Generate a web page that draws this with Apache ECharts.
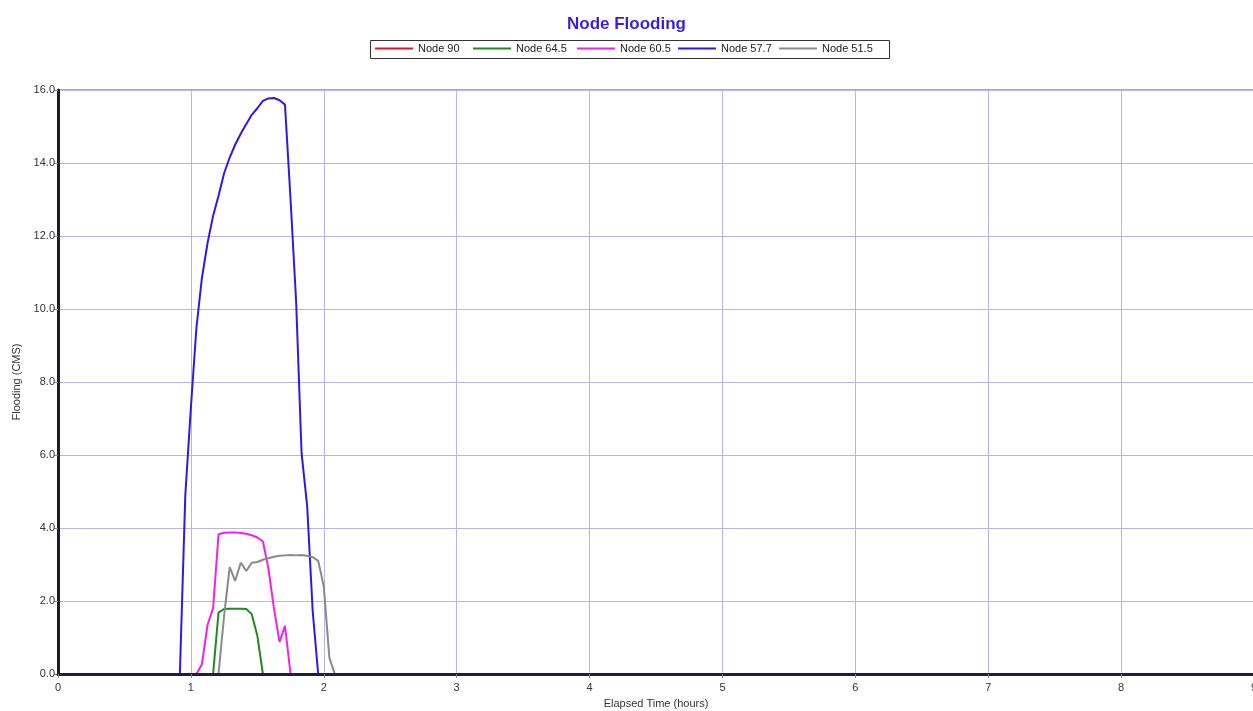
<!DOCTYPE html>
<html>
<head>
<meta charset="utf-8">
<title>Node Flooding</title>
<script src="https://cdn.jsdelivr.net/npm/echarts@6/dist/echarts.min.js"></script>
<style>
  html, body { margin: 0; padding: 0; background: #ffffff; }
  #chart { width: 1253px; height: 711px; }
</style>
</head>
<body>
<div id="chart"></div>
<script>
// Reporting times (hours), 2.5-minute steps around the flooding event
const hours = [0.875, 0.917, 0.958, 1.000, 1.042, 1.083, 1.125, 1.167, 1.208, 1.250,
               1.292, 1.333, 1.375, 1.417, 1.458, 1.500, 1.542, 1.583, 1.625, 1.667,
               1.708, 1.750, 1.792, 1.833, 1.875, 1.917, 1.958, 2.000, 2.042, 2.083, 2.125];

// Flooding rates (CMS) per node at each reporting time
const node90   = [0, 0, 0, 0, 0, 0, 0, 0, 0, 0, 0, 0, 0, 0, 0, 0, 0, 0, 0, 0,
                  0, 0, 0, 0, 0, 0, 0, 0, 0, 0, 0];
const node645  = [0, 0, 0, 0, 0, 0, 0, 0, 1.68, 1.78, 1.79, 1.79, 1.79, 1.78, 1.64, 1.05, 0, 0, 0, 0,
                  0, 0, 0, 0, 0, 0, 0, 0, 0, 0, 0];
const node605  = [0, 0, 0, 0, 0, 0.27, 1.34, 1.8, 3.83, 3.87, 3.88, 3.88, 3.86, 3.84, 3.8, 3.74, 3.63, 2.9, 1.8, 0.88,
                  1.32, 0, 0, 0, 0, 0, 0, 0, 0, 0, 0];
const node577  = [0, 0, 4.9, 7.3, 9.5, 10.85, 11.8, 12.55, 13.1, 13.72, 14.15, 14.5, 14.8, 15.07, 15.32, 15.5, 15.7, 15.77, 15.78, 15.72,
                  15.6, 13.0, 10.2, 6.05, 4.6, 1.7, 0, 0, 0, 0, 0];
const node515  = [0, 0, 0, 0, 0, 0, 0, 0, 0, 1.6, 2.93, 2.55, 3.05, 2.82, 3.05, 3.07, 3.13, 3.17, 3.21, 3.24,
                  3.25, 3.26, 3.25, 3.26, 3.24, 3.2, 3.1, 2.4, 0.45, 0, 0];

const seriesNames  = ['Node 90', 'Node 64.5', 'Node 60.5', 'Node 57.7', 'Node 51.5'];
const seriesValues = [node90, node645, node605, node577, node515];
const seriesColors = ['#e8102c', '#1f8a1f', '#f020f0', '#3a14e6', '#8a8a8a'];

const FONT = 'Arial, "Liberation Sans", sans-serif';
const legendLefts = [375, 473, 577, 678, 779];

const chart = echarts.init(document.getElementById('chart'), null, { renderer: 'canvas' });

const option = {
  backgroundColor: '#ffffff',
  animation: false,
  title: {
    text: 'Node Flooding',
    left: 'center',
    top: 11,
    textStyle: { color: '#3a1ee0', fontSize: 17, fontWeight: 'bold', fontFamily: FONT }
  },
  legend: seriesNames.map((name, i) => ({
    data: [name],
    left: legendLefts[i],
    top: 43,
    padding: 0,
    icon: 'rect',
    itemWidth: 38,
    itemHeight: 2,
    textStyle: { color: '#222', fontSize: 11, fontFamily: FONT }
  })),
  graphic: [{
    type: 'rect',
    shape: { x: 370.5, y: 40.5, width: 519, height: 18 },
    style: { fill: 'none', stroke: '#333', lineWidth: 1 },
    silent: true
  }],
  grid: {
    left: 58, top: 90, width: 1196, height: 584,
    outerBoundsMode: 'none',
    containLabel: false,
    show: true, borderColor: '#505090', borderWidth: 1, backgroundColor: 'transparent'
  },
  xAxis: [{
    // grid lines only, drawn beneath the curves
    type: 'value', min: 0, max: 9, interval: 1,
    axisLine: { show: false }, axisTick: { show: false }, axisLabel: { show: false },
    splitLine: { show: true, lineStyle: { color: '#b6b6ee', width: 1 } }
  }, {
    // visible axis line, ticks and labels drawn above the curves
    type: 'value', min: 0, max: 9, interval: 1, position: 'bottom', z: 10,
    name: 'Elapsed Time (hours)', nameLocation: 'middle', nameGap: 24,
    nameTextStyle: { color: '#333', fontSize: 11, fontFamily: FONT },
    axisLine: { show: true, lineStyle: { color: '#1e1e40', width: 3 } },
    axisTick: { show: true, length: 4, lineStyle: { color: '#888', width: 1 } },
    axisLabel: { color: '#333', fontSize: 11, fontFamily: FONT, margin: 8 },
    splitLine: { show: false }
  }],
  yAxis: {
    type: 'value', min: 0, max: 16, interval: 2,
    name: 'Flooding (CMS)', nameLocation: 'middle', nameGap: 33,
    nameTextStyle: { color: '#333', fontSize: 11, fontFamily: FONT },
    axisLine: { show: true, lineStyle: { color: '#1c1c2c', width: 3 } },
    axisTick: { show: true, length: 4, lineStyle: { color: '#888', width: 1 } },
    axisLabel: { color: '#333', fontSize: 11, fontFamily: FONT, margin: 3,
                 formatter: v => v.toFixed(1) },
    splitLine: { show: true, lineStyle: { color: '#b6b6ee', width: 1 } }
  },
  series: seriesNames.map((name, i) => ({
    name: name,
    type: 'line',
    xAxisIndex: 0,
    showSymbol: false,
    symbol: 'none',
    color: seriesColors[i],
    lineStyle: { width: 2, color: seriesColors[i] },
    data: hours.map((t, j) => [t, seriesValues[i][j]])
  }))
};

chart.setOption(option);
</script>
</body>
</html>
